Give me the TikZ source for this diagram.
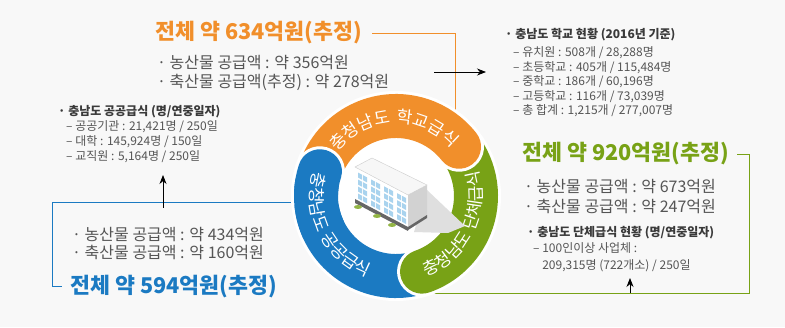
\documentclass[tikz,border=0pt]{standalone}
\usepackage{fontspec}
\setmainfont{Noto Sans CJK KR}
\usepackage{xcolor}
\usetikzlibrary{arrows.meta,decorations.text}

\definecolor{schoolor}{HTML}{F18F2B}
\definecolor{groupgr}{HTML}{78A216}
\definecolor{publicbl}{HTML}{1B7AC2}
\definecolor{bodygray}{HTML}{555555}
\definecolor{headgray}{HTML}{3A3A3A}
\definecolor{panel}{HTML}{F8F8F8}
\definecolor{winblue}{HTML}{A9D3EE}
\newcommand{\ringfont}{\fontsize{17}{17}\selectfont\addfontfeature{LetterSpace=8}}

\begin{document}
\begin{tikzpicture}[x=1pt, y=1pt,
    total/.style={font=\fontsize{21.7}{24}\selectfont\bfseries, anchor=base west, inner sep=0pt},
    supply/.style={font=\fontsize{16}{19}\selectfont, text=bodygray, anchor=base west, inner sep=0pt, align=left},
    stathead/.style={font=\fontsize{12}{14}\selectfont\bfseries, text=headgray, anchor=base west, inner sep=0pt},
    statlist/.style={font=\fontsize{12}{14.5}\selectfont, text=bodygray, anchor=base west, inner sep=0pt, align=left},
    feed/.style={line width=0.9pt},
    pointer/.style={-{Stealth[length=9pt,width=7pt]}, line width=0.8pt, black},
    band/.style={line width=44pt},
    bandedge/.style={white, line width=50pt, line cap=round},
    ringlabel/.style={decorate, decoration={text along path, text align=center,
      text color=white, text={|\ringfont|#1}}}]
  \useasboundingbox (0,0) rectangle (785,327);
  \fill[panel] (0,0) rectangle (785,327);

  % totals and supply figures (multi-line nodes sit on their last baseline)
  \node[total, text=schoolor] (ototal) at (155,287) {전체 약 634억원(추정)};
  \node[supply] (osupply) at (157,239.3) {· 농산물 공급액 : 약 356억원\\· 축산물 공급액(추정) : 약 278억원};
  \node[total, text=publicbl] (btotal) at (70,34) {전체 약 594억원(추정)};
  \node[supply, font=\fontsize{16}{18}\selectfont] (bsupply) at (72,68.3) {· 농산물 공급액 : 약 434억원\\· 축산물 공급액 : 약 160억원};
  \node[total, text=groupgr] (gtotal) at (522,166) {전체 약 920억원(추정)};
  \node[supply, font=\fontsize{16}{20}\selectfont] (gsupply) at (524,114.3) {· 농산물 공급액 : 약 673억원\\· 축산물 공급액 : 약 247억원};

  % status lists
  \node[stathead] (shead) at (505,288.4) {· 충남도 학교 현황 (2016년 기준)};
  \node[statlist] (slist) at (513,212.4) {– 유치원 : 508개 / 28,288명\\– 초등학교 : 405개 / 115,484명\\– 중학교 : 186개 / 60,196명\\– 고등학교 : 116개 / 73,039명\\– 총 합계 : 1,215개 / 277,007명};
  \node[stathead] (phead) at (58,211.4) {· 충남도 공공급식 (명/연중일자)};
  \node[statlist, font=\fontsize{12}{15}\selectfont] (plist) at (66,166.4) {– 공공기관 : 21,421명 / 250일\\– 대학 : 145,924명 / 150일\\– 교직원 : 5,164명 / 250일};
  \node[stathead] (ghead) at (527,90.4) {· 충남도 단체급식 현황 (명/연중일자)};
  \node[statlist, font=\fontsize{12}{17}\selectfont] (glist) at (533,57.4) {– 100인이상 사업체 :\\\phantom{– }209,315명 (722개소) / 250일};

  % feed lines into the ring
  \coordinate (ring) at (396,131);
  \coordinate (odrop) at (455,180);
  \coordinate (bfrom) at (320,125);
  \coordinate (bbend) at (52,125);
  \coordinate (gbend) at (749,34);
  \coordinate (gto) at (420,34);
  \draw[feed, schoolor] ([xshift=10pt]ototal.east) -| (odrop);
  \draw[feed, publicbl] (bfrom) -- (bbend) |- ([xshift=-8pt]btotal.west);
  \draw[feed, groupgr] ([xshift=8pt]gtotal.east) -| (gbend) -- (gto);

  % pointers
  \coordinate (sfrom) at (434,255);
  \coordinate (sto) at (486,255);
  \coordinate (pfrom) at (163,119);
  \coordinate (pto) at (163,152);
  \coordinate (gfrom) at (630,34);
  \coordinate (gup) at (630,49);
  \draw[pointer] (sfrom) -- (sto);
  \draw[pointer] (pfrom) -- (pto);
  \draw[pointer] (gfrom) -- (gup);

  % ring
  \fill[white] (ring) circle[radius=60pt];
  \draw[bandedge] ([shift={(289:80)}]ring) arc[start angle=289, end angle=162, radius=80pt];
  \draw[band, publicbl, line cap=round] ([shift={(289:80)}]ring) arc[start angle=289, end angle=162, radius=80pt];
  \draw[bandedge] ([shift={(38:80)}]ring) arc[start angle=38, end angle=-71, radius=80pt];
  \draw[band, groupgr, line cap=round] ([shift={(38:80)}]ring) arc[start angle=38, end angle=-71, radius=80pt];
  \draw[bandedge] ([shift={(162:80)}]ring) arc[start angle=162, end angle=38, radius=80pt];
  \draw[band, schoolor, line cap=round] ([shift={(162:80)}]ring) arc[start angle=162, end angle=38, radius=80pt];
  % blue end laid back over the orange start
  \draw[bandedge] ([shift={(178:80)}]ring) arc[start angle=178, end angle=162, radius=80pt];
  \draw[band, publicbl, line cap=round] ([shift={(178:80)}]ring) arc[start angle=178, end angle=162, radius=80pt];
  \draw[band, publicbl] ([shift={(205:80)}]ring) arc[start angle=205, end angle=170, radius=80pt];

  \path[ringlabel={충청남도 학교급식}]
    ([shift={(166:73)}]ring) arc[start angle=166, end angle=18, radius=73pt];
  \path[ringlabel={충청남도 단체급식}]
    ([shift={(-90:86)}]ring) arc[start angle=-90, end angle=38, radius=86pt];
  \path[ringlabel={충청남도 공공급식}]
    ([shift={(145:86)}]ring) arc[start angle=145, end angle=269, radius=86pt];

  % building
  \fill[gray!25] (427,137) -- (465,101) -- (448,94) -- (414,95) -- cycle;
  \fill[white] (355,160) -- (408,132) -- (408,97) -- (355,124) -- cycle;
  \fill[gray!35] (408,132) -- (427,142) -- (427,109) -- (408,97) -- cycle;
  \filldraw[fill=gray!6, draw=gray!40, line width=0.4pt] (355,160) -- (372,169) -- (427,142) -- (408,132) -- cycle;
  \begin{scope}[shift={(355,160)}, yslant=-0.528]
    \foreach \gx in {3,16,29,42}
      \foreach \wx in {0,5}
        \foreach \wy in {-4,-11,-18,-25}
          \fill[winblue] (\gx+\wx,\wy) rectangle (\gx+\wx+4,\wy-5);
    \fill[gray!80!black] (0,-36) rectangle (53,-32);
  \end{scope}
  \fill[gray!80!black] (408,97) -- (427,109) -- (427,112) -- (408,100) -- cycle;
  \foreach \bx/\by in {358/120, 377/111, 392/102}
    \fill[groupgr!80!white] (\bx,\by) ellipse[x radius=4pt, y radius=2pt];
\end{tikzpicture}
\end{document}
